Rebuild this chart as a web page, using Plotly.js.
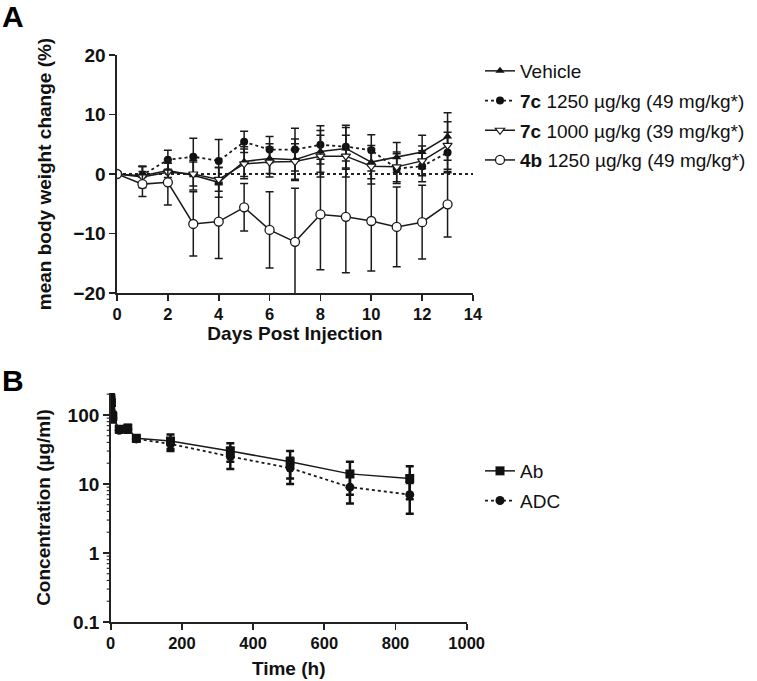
<!DOCTYPE html>
<html>
<head>
<meta charset="utf-8">
<script src="https://cdn.plot.ly/plotly-3.0.1.min.js"></script>
<style>html,body{margin:0;padding:0;background:#fff;}#chart{width:757px;height:681px;}</style>
</head>
<body>
<div id="chart"></div>
<script>
// ---- Panel A data: mean body weight change (%) ----
const days = [0,1,2,3,4,5,6,7,8,9,10,11,12,13];
const vehicleMean = [0,-0.3,0.6,-0.2,-1.4,2.1,2.6,2.4,3.8,4.3,2.0,2.8,3.7,6.3];
const vehicleSD   = [0,1.5,1.2,2.5,2.5,2.5,2.5,3.5,3.5,3.5,2.8,2.5,2.8,4.0];
const c7c1250Mean = [0,-0.2,2.4,2.9,2.2,5.4,4.1,4.1,4.9,4.6,4.0,0.9,1.3,3.6];
const c7c1250SD   = [0,1.5,1.6,3.1,3.6,1.8,2.2,3.6,3.2,3.6,2.6,2.5,2.6,3.4];
const c7c1000Mean = [0,-0.5,0.3,0.0,-0.9,1.7,2.0,2.1,3.0,3.0,1.3,1.2,2.2,4.8];
const c7c1000SD   = [0,1.8,1.5,2.0,2.0,2.5,2.5,3.0,3.5,3.5,3.0,2.5,2.5,4.0];
const c4b1250Mean = [0,-1.7,-1.4,-8.4,-8.0,-5.6,-9.4,-11.4,-6.8,-7.2,-7.9,-8.9,-8.1,-5.1];
const c4b1250SD   = [0,2.1,3.8,5.4,6.2,4.0,6.4,9.0,9.3,9.4,8.4,6.7,6.2,5.5];
const legendA = ['Vehicle',
  '<b>7c</b> 1250 \u00b5g/kg (49 mg/kg*)',
  '<b>7c</b> 1000 \u00b5g/kg (39 mg/kg*)',
  '<b>4b</b> 1250 \u00b5g/kg (49 mg/kg*)'];
const dayTicks = [0,2,4,6,8,10,12,14];
const pctTicks = [-20,-10,0,10,20];

// ---- Panel B data: concentration (µg/ml) ----
const timeH  = [0.5,2,6,24,48,72,168,336,504,672,840];
const abMean = [175,150,95,62,64,46,42,30,21,14,12];
const abSD   = [50,30,15,5,8,4,10,9,9,7,6];
const adcMean= [160,140,90,60,62,45,38,25,17,9,7];
const adcSD  = [45,25,12,5,7,4,8,8.5,7,3.8,3.3];
const legendB = ['Ab','ADC'];
const timeTicks = [0,200,400,600,800,1000];
const concMin = 0.1, concMax = 208;   // log axis limits (µg/ml)
const concDecades = [0.1,1,10,100];

const ink = '#1a1a1a';
const FAM = 'Liberation Sans, Arial, sans-serif';
function errA(sd){return {type:'data',array:sd,visible:true,thickness:1.5,width:4,color:ink};}
function errB(sd){return {type:'data',array:sd,visible:true,thickness:2.5,width:4,color:'#111'};}

const traces = [
  {x:days,y:vehicleMean,error_y:errA(vehicleSD),name:legendA[0],mode:'lines+markers',
   line:{color:ink,width:1.5},marker:{symbol:'triangle-up',size:8,color:'#111'},
   xaxis:'x',yaxis:'y',legend:'legend',legendgroup:'a1'},
  {x:days,y:c7c1250Mean,error_y:errA(c7c1250SD),name:legendA[1],mode:'lines+markers',
   line:{color:ink,width:1.8,dash:'dot'},marker:{symbol:'circle',size:8,color:'#111'},
   xaxis:'x',yaxis:'y',legend:'legend',legendgroup:'a2'},
  {x:days,y:c7c1000Mean,error_y:errA(c7c1000SD),name:legendA[2],mode:'lines+markers',
   line:{color:ink,width:1.5},marker:{symbol:'triangle-down',size:8,color:'#fff',line:{color:ink,width:1.2}},
   xaxis:'x',yaxis:'y',legend:'legend',legendgroup:'a3'},
  {x:days,y:c4b1250Mean,error_y:errA(c4b1250SD),name:legendA[3],mode:'lines+markers',
   line:{color:ink,width:1.5},marker:{symbol:'circle',size:9,color:'#fff',line:{color:ink,width:1.3}},
   xaxis:'x',yaxis:'y',legend:'legend',legendgroup:'a4'},
  {x:timeH,y:abMean,error_y:errB(abSD),name:legendB[0],mode:'lines+markers',
   line:{color:ink,width:1.5},marker:{symbol:'square',size:9,color:'#111'},
   xaxis:'x2',yaxis:'y2',legend:'legend2',legendgroup:'b1'},
  {x:timeH,y:adcMean,error_y:errB(adcSD),name:legendB[1],mode:'lines+markers',
   line:{color:ink,width:1.8,dash:'dot'},marker:{symbol:'circle',size:9,color:'#111'},
   xaxis:'x2',yaxis:'y2',legend:'legend2',legendgroup:'b2'}
];

const xTickFont = {family:FAM,size:16.5,color:'#111',weight:'bold'};
const yTickFont = {family:FAM,size:19,color:'#111',weight:'bold'};
const titleFont = {family:FAM,size:19,color:'#111',weight:'bold'};
const W = 757, H = 681;
const axBase = {showgrid:false,zeroline:false,showline:true,linecolor:'#222',linewidth:1.6,
  ticks:'outside',ticklen:6,tickwidth:1.6,tickcolor:'#222',fixedrange:true};
const xDomB = [110.7/W,466.7/W];
const yDomB = [1-622/H,1-393/H];
const yRangeB = [Math.log10(concMin),Math.log10(concMax)];

// minor log ticks on the B y-axis (axis decoration, positioned in paper space)
const shapes = [{type:'line',xref:'x',yref:'y',x0:0,x1:14,y0:0,y1:0,layer:'below',
  line:{color:'#222',width:2,dash:'dot'}}];
concDecades.forEach(function(d){
  for (let k=2;k<=9;k++){
    const v = d*k; if (v > concMax) continue;
    const f = (Math.log10(v)-yRangeB[0])/(yRangeB[1]-yRangeB[0]);
    const py = yDomB[0] + f*(yDomB[1]-yDomB[0]);
    shapes.push({type:'line',xref:'paper',yref:'paper',x0:xDomB[0]-4/W,x1:xDomB[0],y0:py,y1:py,
      line:{color:'#222',width:1.1}});
  }
});

const layout = {
  width:W,height:H,margin:{l:0,r:0,t:0,b:0},paper_bgcolor:'#fff',plot_bgcolor:'#fff',
  showlegend:true,
  xaxis:Object.assign({},axBase,{domain:[117/W,473/W],range:[0,14],tickvals:dayTicks,anchor:'y',tickfont:xTickFont,
    title:{text:'Days Post Injection',font:titleFont,standoff:4}}),
  yaxis:Object.assign({},axBase,{domain:[1-293/H,1-55/H],range:[-20,20],tickvals:pctTicks,anchor:'x',tickfont:yTickFont,
    title:{text:'mean body weight change (%)',font:titleFont,standoff:17}}),
  xaxis2:Object.assign({},axBase,{domain:xDomB,range:[0,1000],tickvals:timeTicks,anchor:'y2',tickfont:xTickFont,
    title:{text:'Time (h)',font:titleFont,standoff:10}}),
  yaxis2:Object.assign({},axBase,{domain:yDomB,type:'log',range:yRangeB,tickmode:'linear',tick0:0,dtick:1,
    anchor:'x2',tickfont:yTickFont,
    title:{text:'Concentration (\u00b5g/ml)',font:titleFont,standoff:12}}),
  legend:{x:480/W,xanchor:'left',y:1-52/H,yanchor:'top',bgcolor:'rgba(0,0,0,0)',
    font:{family:FAM,size:19,color:'#111'},
    traceorder:'grouped',tracegroupgap:2,itemwidth:30},
  legend2:{x:480/W,xanchor:'left',y:1-452/H,yanchor:'top',bgcolor:'rgba(0,0,0,0)',
    font:{family:FAM,size:19,color:'#111'},
    traceorder:'grouped',tracegroupgap:2,itemwidth:30},
  shapes:shapes,
  annotations:[
    {text:'<b>A</b>',xref:'paper',yref:'paper',x:0,y:1,yshift:2,xanchor:'left',yanchor:'top',showarrow:false,
     font:{family:FAM,size:30,color:'#000'}},
    {text:'<b>B</b>',xref:'paper',yref:'paper',x:0,y:1-366/H,yshift:4,xanchor:'left',yanchor:'top',showarrow:false,
     font:{family:FAM,size:30,color:'#000'}}
  ]
};

Plotly.newPlot('chart',traces,layout,{staticPlot:true,displayModeBar:false});
</script>
</body>
</html>
